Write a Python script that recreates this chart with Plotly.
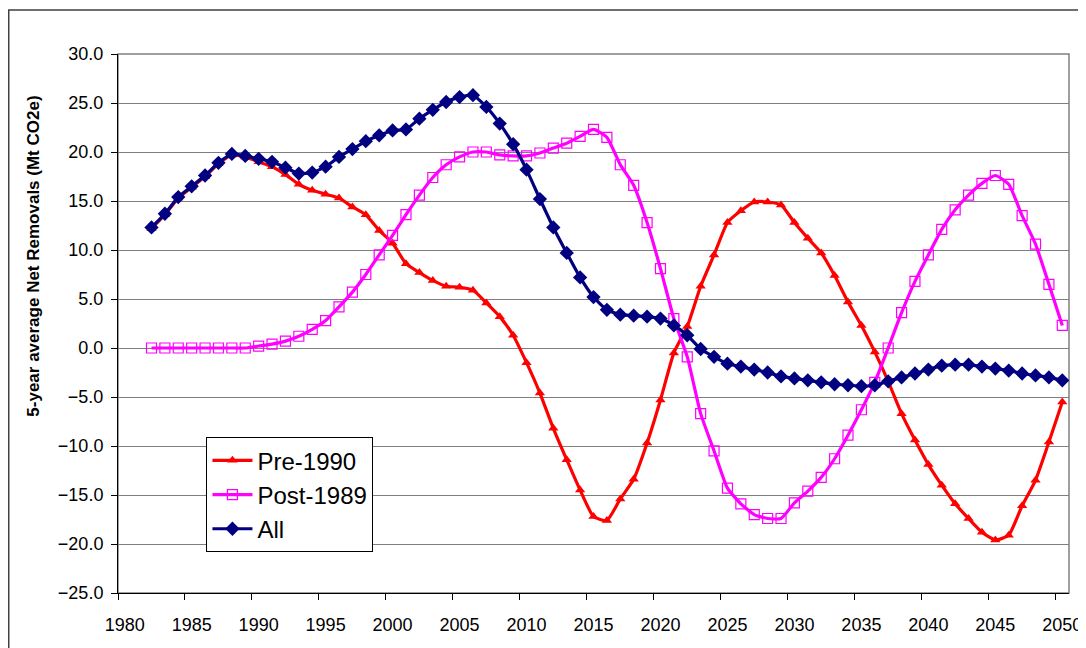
import plotly.graph_objects as go

years = list(range(1982, 2051))

pre_1990 = [12.2, 13.6, 15.3, 16.4, 17.5, 18.8, 19.7, 19.5, 19.0, 18.5,
            17.7, 16.7, 16.1, 15.7, 15.3, 14.4, 13.6, 12.0, 10.7, 8.6,
            7.7, 6.9, 6.3, 6.2, 5.9, 4.6, 3.2, 1.3, -1.5, -4.6,
            -8.2, -11.4, -14.5, -17.2, -17.6, -15.4, -13.4, -9.7, -5.3, -0.5,
            2.2, 6.3, 9.5, 12.8, 14.0, 14.9, 14.9, 14.6, 12.8, 11.2,
            9.7, 7.4, 4.7, 2.3, -0.4, -3.4, -6.7, -9.4, -11.9, -14.0,
            -15.9, -17.4, -18.8, -19.6, -19.1, -16.1, -13.5, -9.6, -5.5]

post_1989 = [0.0, 0.0, 0.0, 0.0, 0.0, 0.0, 0.0, 0.0, 0.2, 0.4,
             0.7, 1.2, 1.9, 2.8, 4.2, 5.7, 7.5, 9.5, 11.5, 13.6,
             15.6, 17.4, 18.7, 19.5, 20.0, 20.0, 19.7, 19.6, 19.6, 19.9,
             20.4, 20.9, 21.6, 22.3, 21.5, 18.7, 16.6, 12.8, 8.1, 3.0,
             -0.9, -6.7, -10.5, -14.3, -15.9, -17.0, -17.4, -17.4, -15.8, -14.6,
             -13.2, -11.3, -8.9, -6.3, -3.5, 0.0, 3.6, 6.8, 9.5, 12.1,
             14.1, 15.6, 16.8, 17.6, 16.7, 13.5, 10.6, 6.5, 2.3]

all_series = [12.3, 13.7, 15.4, 16.5, 17.6, 18.9, 19.8, 19.6, 19.3, 19.0,
              18.4, 17.8, 17.9, 18.5, 19.5, 20.3, 21.1, 21.7, 22.2, 22.3,
              23.4, 24.3, 25.1, 25.6, 25.8, 24.6, 22.9, 20.8, 18.2, 15.2,
              12.3, 9.7, 7.2, 5.2, 3.9, 3.4, 3.3, 3.2, 3.0, 2.3,
              1.3, -0.1, -0.9, -1.6, -1.9, -2.2, -2.5, -2.9, -3.1, -3.3,
              -3.5, -3.7, -3.8, -3.9, -3.8, -3.4, -3.0, -2.6, -2.2, -1.8,
              -1.7, -1.7, -1.9, -2.1, -2.3, -2.6, -2.8, -3.0, -3.3]

tick_years = list(range(1980, 2051, 5))
tick_labels = [str(y) for y in tick_years]
y_title = "5-year average Net Removals (Mt CO2e)"

FONT = "Arial, Liberation Sans, sans-serif"

fig = go.Figure()
fig.add_trace(go.Scatter(
    x=years, y=pre_1990, name="Pre-1990", mode="lines+markers",
    legendgroup="a",
    line=dict(color="#FF0000", width=3.2, shape="spline", smoothing=0.5),
    marker=dict(symbol="triangle-up", size=9, color="#FF0000")))
fig.add_trace(go.Scatter(
    x=years, y=post_1989, name="Post-1989", mode="lines+markers",
    legendgroup="b",
    line=dict(color="#FF00FF", width=3.2, shape="spline", smoothing=0.5),
    marker=dict(symbol="square-open", size=10, color="#FF00FF",
                line=dict(width=1.2, color="#FF00FF"))))
fig.add_trace(go.Scatter(
    x=years, y=all_series, name="All", mode="lines+markers",
    legendgroup="c",
    line=dict(color="#000080", width=3.2, shape="spline", smoothing=0.5),
    marker=dict(symbol="diamond", size=11, color="#000080")))

boundaries = [y - 0.5 for y in tick_years]

fig.update_layout(
    width=1086, height=648,
    margin=dict(l=110, r=19, t=46, b=63),
    paper_bgcolor="white", plot_bgcolor="white",
    font=dict(family=FONT, color="black", size=18),
    showlegend=True,
    legend=dict(x=0.093, y=0.289, xanchor="left", yanchor="top",
                bordercolor="black", borderwidth=1, bgcolor="white",
                font=dict(size=24, family=FONT), traceorder="grouped",
                tracegroupgap=0, itemwidth=40),
    xaxis=dict(range=[1979.5, 2050.5], tickmode="array", tickvals=tick_years,
               ticktext=tick_labels, ticks="", showgrid=False,
               showline=True, linecolor="black", linewidth=1,
               zeroline=False, ticklabelstandoff=15,
               tickfont=dict(size=18),
               minor=dict(tickmode="array", tickvals=boundaries, ticks="outside",
                          ticklen=6, tickcolor="black", tickwidth=1,
                          showgrid=False)),
    yaxis=dict(range=[-25, 30], dtick=5, tick0=0, tickformat=".1f",
               showgrid=True, gridcolor="#7f7f7f", gridwidth=1,
               showline=True, linecolor="black", linewidth=1,
               ticks="outside", ticklen=6, tickcolor="black",
               zeroline=False, ticklabelstandoff=4, tickfont=dict(size=18)),
    shapes=[
        dict(type="rect", xref="paper", yref="paper", x0=0, x1=1, y0=0, y1=1,
             line=dict(color="#808080", width=1.5), layer="below"),
        dict(type="rect", xref="paper", yref="paper",
             x0=-0.1149, x1=1.05, y0=-0.2, y1=1.0816,
             line=dict(color="#404040", width=1.5)),
    ],
    annotations=[
        dict(text="<b>" + y_title + "</b>", xref="paper", yref="paper",
             x=-0.0888, y=0.625, textangle=-90, showarrow=False,
             xanchor="center", yanchor="middle",
             font=dict(size=17, family=FONT)),
    ],
)

fig.write_html("out.html")
